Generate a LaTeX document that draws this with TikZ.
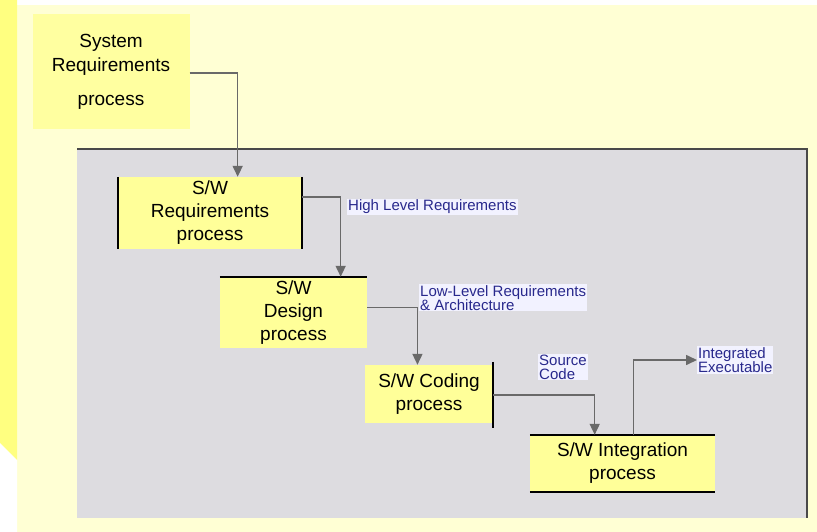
\documentclass[tikz,border=0pt]{standalone}
\usepackage{fontspec}
\setmainfont{Liberation Sans}
\usetikzlibrary{arrows.meta,positioning,calc}
\definecolor{stripyel}{RGB}{255,255,128}
\definecolor{pageyel}{RGB}{255,255,212}
\definecolor{sysyel}{RGB}{255,255,160}
\definecolor{boxyel}{RGB}{255,255,153}
\definecolor{panelgray}{RGB}{221,220,224}
\definecolor{arrgray}{RGB}{105,105,105}
\definecolor{lblblue}{RGB}{40,40,140}

\begin{document}
\begin{tikzpicture}[x=1pt, y=-1pt,
  box/.style={fill=boxyel, align=center, inner sep=0pt,
    font=\fontsize{19}{23}\selectfont},
  lbl/.style={text=lblblue, fill=blue!5, align=left, inner sep=1pt,
    font=\fontsize{15}{14}\selectfont},
  edge/.style={line width=1.6pt, black},
  arr/.style={-{Triangle[length=11pt, width=10pt]}, arrgray, line width=1.6pt}]
\useasboundingbox (0,0) rectangle (817,532);
% page background
\fill[pageyel] (0,0) rectangle (817,532);
\fill[white] (17,0) rectangle (817,5);
\fill[stripyel] (0,0) -- (17,0) -- (17,460) -- (0,443) -- cycle;
\fill[white] (0,443) -- (17,460) -- (17,532) -- (0,532) -- cycle;
% grey panel
\fill[panelgray] (77,149) rectangle (807,518);
\draw[arrgray!70!black, line width=1.5pt] (77,149) -- (807,149) -- (807,518);

\node[fill=sysyel, minimum width=157pt, minimum height=115pt, align=center,
  font=\fontsize{19}{24}\selectfont] (sysreq) at (111,72)
  {System\\Requirements\\[10pt]process};
\node[box, minimum width=184pt, minimum height=72pt] (swreq) at (210,213)
  {S/W\\Requirements\\process};
\node[box, minimum width=147pt, minimum height=71pt] (swdes) at (293.5,312.5)
  {S/W\\Design\\process};
\node[box, minimum width=128pt, minimum height=58pt] (swcode) at (429,394)
  {S/W Coding\\process};
\node[box, minimum width=185pt, minimum height=57pt] (swint) at (622.5,463.5)
  {S/W Integration\\process};

% box edges
\draw[edge] (swreq.north west) -- (swreq.south west);
\draw[edge] (swreq.north east) -- (swreq.south east);
\draw[edge] (swdes.north west) -- (swdes.north east);
\draw[edge] ($(swcode.north east)+(0,-3)$) -- ($(swcode.south east)+(0,5)$);
\draw[edge] (swint.north west) -- (swint.north east);
\draw[edge] (swint.south west) -- (swint.south east);

% labels
\node[lbl, anchor=west] (hlr) at (347,207) {High Level Requirements};
\node[lbl, anchor=north west] (llr) at (419,284)
  {Low-Level Requirements\\\& Architecture};
\node[lbl] (src) at (563,367) {Source\\Code};
\node[lbl, anchor=west] (intexe) at (697,360) {Integrated\\Executable};

% flow
\draw[arr] ($(sysreq.east)+(0,1)$) -| ($(swreq.north west)!0.65!(swreq.north east)$);
\draw[arr] ($(swreq.east)+(0,-16)$) -| ($(swdes.north west)!0.82!(swdes.north east)$);
\draw[arr] ($(swdes.east)+(0,-5)$) -| ($(swcode.north west)!0.41!(swcode.north east)$);
\draw[arr] ($(swcode.east)+(0,1)$) -| ($(swint.north west)!0.35!(swint.north east)$);
\draw[arr] ($(swint.north west)!0.56!(swint.north east)$) |- (intexe.west);
\end{tikzpicture}
\end{document}
